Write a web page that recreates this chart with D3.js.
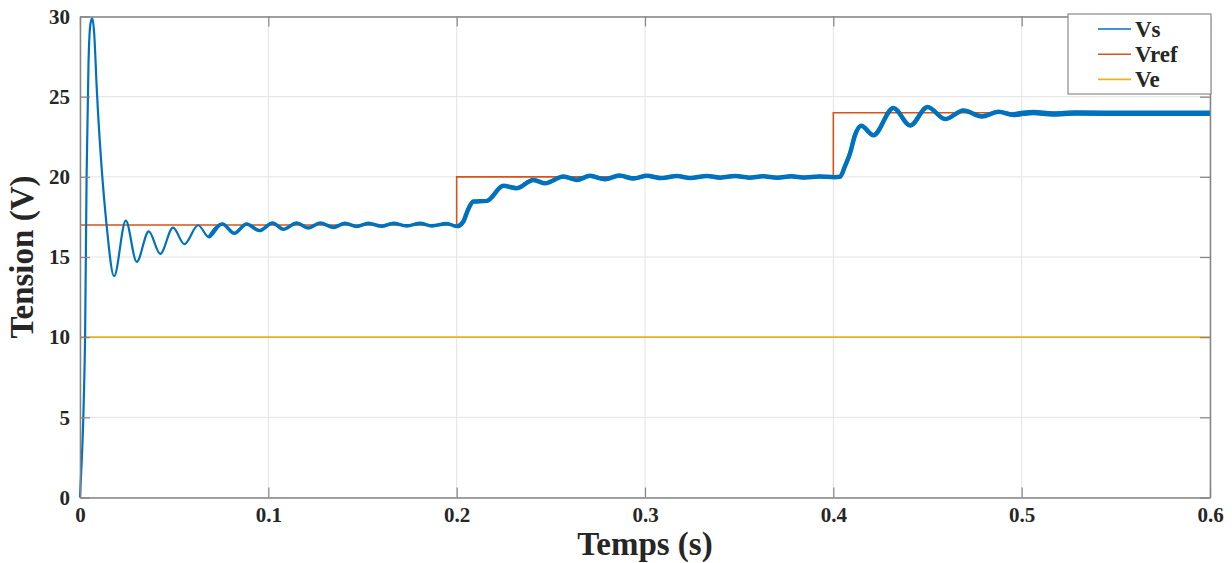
<!DOCTYPE html>
<html>
<head>
<meta charset="utf-8">
<script src="https://cdn.jsdelivr.net/npm/d3@7"></script>
<style>
    body { margin: 0; background: #fff; }
    svg { display: block; font-family: "Liberation Serif", "Times New Roman", serif; }
</style>
</head>
<body>
<div id="chart"></div>
<script>
// Vs : output voltage (peaks and troughs)
const vsTime = [0, 0.001, 0.002, 0.0027, 0.0035, 0.0045, 0.0055, 0.0065, 0.0075, 0.0089, 0.0142, 0.0181,
    0.0243, 0.0301, 0.0365, 0.0426, 0.0494, 0.0554, 0.0627, 0.0685, 0.0756, 0.0819, 0.0885, 0.0952,
    0.1023, 0.108, 0.1151, 0.1212, 0.1275, 0.1345, 0.1407, 0.1469, 0.1531, 0.1602, 0.1664, 0.1735,
    0.1806, 0.1868, 0.1947, 0.2005, 0.2035, 0.2062, 0.2089, 0.216, 0.2248, 0.2319, 0.2407, 0.247,
    0.2567, 0.2638, 0.2708, 0.2788, 0.2864, 0.2938, 0.301, 0.3089, 0.3169, 0.3239, 0.3328, 0.3399,
    0.3478, 0.3553, 0.3627, 0.3702, 0.3776, 0.385, 0.3925, 0.4005, 0.4035, 0.4063, 0.4089, 0.4115,
    0.4148, 0.4213, 0.4319, 0.4408, 0.45, 0.4594, 0.4691, 0.4789, 0.4877, 0.4955, 0.5061, 0.5167,
    0.5284, 0.56, 0.6];
const vsValue = [0, 2.5, 6, 10, 20, 27, 29.5, 29.9, 29, 25.5, 16.9, 13.8,
    17.27, 14.7, 16.6, 15.2, 16.83, 15.8, 16.98, 16.23, 17.06, 16.48, 17.06, 16.65,
    17.12, 16.73, 17.12, 16.81, 17.12, 16.85, 17.1, 16.9, 17.1, 16.92, 17.1, 16.94,
    17.1, 16.94, 17.08, 16.9, 17.2, 18.0, 18.46, 18.5, 19.44, 19.29, 19.81, 19.6,
    20.02, 19.81, 20.06, 19.85, 20.08, 19.9, 20.06, 19.92, 20.05, 19.93, 20.05, 19.95,
    20.05, 19.95, 20.04, 19.95, 20.03, 19.96, 20.02, 19.98, 20.0, 20.7, 21.48, 22.6,
    23.19, 22.6, 24.29, 23.2, 24.36, 23.6, 24.14, 23.77, 24.06, 23.87, 24.02, 23.92,
    23.98, 23.96, 23.96];

// Vref : reference steps
const vrefTime = [0, 0.2, 0.4, 0.6];
const vrefValue = [17, 20, 24, 24];

// Ve : input voltage
const veTime = [0, 0.6];
const veValue = [10, 10];

const xTicks = [0, 0.1, 0.2, 0.3, 0.4, 0.5, 0.6];
const yTicks = [0, 5, 10, 15, 20, 25, 30];
const seriesNames = ['Vs', 'Vref', 'Ve'];
const seriesColors = ['#0072BD', '#D95319', '#EDB120'];

/**
 * Draw the whole figure
 */
let drawChart = () => {
    const width = 1232, height = 563;
    const margin = { top: 16.5, right: 22, bottom: 65.5, left: 80 };
    const innerW = width - margin.left - margin.right;
    const innerH = height - margin.top - margin.bottom;

    const svg = d3.select('#chart')
        .append('svg')
        .attr('width', width)
        .attr('height', height);

    svg.append('rect').attr('width', width).attr('height', height).attr('fill', '#fff');

    const g = svg.append('g').attr('transform', `translate(${margin.left},${margin.top})`);

    const x = d3.scaleLinear().domain([0, 0.6]).range([0, innerW]);
    const y = d3.scaleLinear().domain([0, 30]).range([innerH, 0]);

    // grid
    g.append('g')
        .selectAll('line.vgrid')
        .data(xTicks)
        .join('line')
        .attr('x1', d => x(d)).attr('x2', d => x(d))
        .attr('y1', 0).attr('y2', innerH)
        .attr('stroke', '#e3e3e3').attr('stroke-width', 1);
    g.append('g')
        .selectAll('line.hgrid')
        .data(yTicks)
        .join('line')
        .attr('x1', 0).attr('x2', innerW)
        .attr('y1', d => y(d)).attr('y2', d => y(d))
        .attr('stroke', '#e3e3e3').attr('stroke-width', 1);

    // series
    const makeLine = (curve) => d3.line()
        .x(d => x(d[0]))
        .y(d => y(d[1]))
        .curve(curve);

    const vsData = vsTime.map((t, i) => [t, vsValue[i]]);
    const vrefData = vrefTime.map((t, i) => [t, vrefValue[i]]);
    const veData = veTime.map((t, i) => [t, veValue[i]]);

    const plot = g.append('g');

    plot.append('path')
        .datum(vrefData)
        .attr('d', makeLine(d3.curveStepAfter))
        .attr('fill', 'none')
        .attr('stroke', seriesColors[1])
        .attr('stroke-width', 1.6);

    plot.append('path')
        .datum(veData)
        .attr('d', makeLine(d3.curveLinear))
        .attr('fill', 'none')
        .attr('stroke', seriesColors[2])
        .attr('stroke-width', 1.6);

    plot.append('path')
        .datum(vsData)
        .attr('d', makeLine(d3.curveMonotoneX))
        .attr('fill', 'none')
        .attr('stroke', seriesColors[0])
        .attr('stroke-width', 2.2);

    // ripple makes the trace thicker once it settles
    plot.append('path')
        .datum(vsData.filter(d => d[0] >= 0.0685))
        .attr('d', makeLine(d3.curveMonotoneX))
        .attr('fill', 'none')
        .attr('stroke', seriesColors[0])
        .attr('stroke-width', 3.6);
    plot.append('path')
        .datum(vsData.filter(d => d[0] >= 0.2005))
        .attr('d', makeLine(d3.curveMonotoneX))
        .attr('fill', 'none')
        .attr('stroke', seriesColors[0])
        .attr('stroke-width', 4.5);
    plot.append('path')
        .datum(vsData.filter(d => d[0] >= 0.4955))
        .attr('d', makeLine(d3.curveMonotoneX))
        .attr('fill', 'none')
        .attr('stroke', seriesColors[0])
        .attr('stroke-width', 5.5);

    // axes (ticks inside, box on)
    const tickLen = 10;
    const axisColor = '#858585';

    const xAxisBottom = g.append('g')
        .attr('transform', `translate(0,${innerH})`)
        .call(d3.axisBottom(x).tickValues(xTicks).tickSizeInner(-tickLen).tickSizeOuter(0).tickPadding(10)
            .tickFormat(d => d === 0 ? '0' : d3.format('.1f')(d)));
    const xAxisTop = g.append('g')
        .call(d3.axisTop(x).tickValues(xTicks).tickSizeInner(-tickLen).tickSizeOuter(0).tickFormat(''));
    const yAxisLeft = g.append('g')
        .call(d3.axisLeft(y).tickValues(yTicks).tickSizeInner(-tickLen).tickSizeOuter(0).tickPadding(10));
    const yAxisRight = g.append('g')
        .attr('transform', `translate(${innerW},0)`)
        .call(d3.axisRight(y).tickValues(yTicks).tickSizeInner(-tickLen).tickSizeOuter(0).tickFormat(''));

    [xAxisBottom, xAxisTop, yAxisLeft, yAxisRight].forEach(ax => {
        ax.select('.domain').attr('stroke', axisColor).attr('stroke-width', 1.5);
        ax.selectAll('.tick line').attr('stroke', axisColor).attr('stroke-width', 1.2);
        ax.selectAll('.tick text')
            .attr('fill', '#262626')
            .attr('font-family', '"Liberation Serif", serif')
            .attr('font-weight', 'bold')
            .attr('font-size', '21px');
    });

    // axis labels
    svg.append('text')
        .attr('x', margin.left + innerW / 2)
        .attr('y', 555)
        .attr('text-anchor', 'middle')
        .attr('font-weight', 'bold')
        .attr('font-size', '33px')
        .attr('fill', '#262626')
        .text('Temps (s)');

    svg.append('text')
        .attr('transform', `translate(33,${margin.top + innerH / 2}) rotate(-90)`)
        .attr('text-anchor', 'middle')
        .attr('font-weight', 'bold')
        .attr('font-size', '33px')
        .attr('fill', '#262626')
        .text('Tension (V)');

    // legend
    const legend = svg.append('g').attr('transform', 'translate(1068,14)');
    legend.append('rect')
        .attr('width', 143)
        .attr('height', 80)
        .attr('fill', '#fff')
        .attr('stroke', '#8a8a8a')
        .attr('stroke-width', 1.2);

    const item = legend.selectAll('g.item')
        .data(seriesNames)
        .join('g')
        .attr('transform', (d, i) => `translate(0,${15 + i * 25.2})`);
    item.append('line')
        .attr('x1', 30).attr('x2', 63)
        .attr('stroke', (d, i) => seriesColors[i])
        .attr('stroke-width', 1.6);
    item.append('text')
        .attr('x', 67)
        .attr('dy', '0.35em')
        .attr('font-weight', 'bold')
        .attr('font-size', '23px')
        .attr('fill', '#262626')
        .text(d => d);
}

drawChart();
</script>
</body>
</html>
